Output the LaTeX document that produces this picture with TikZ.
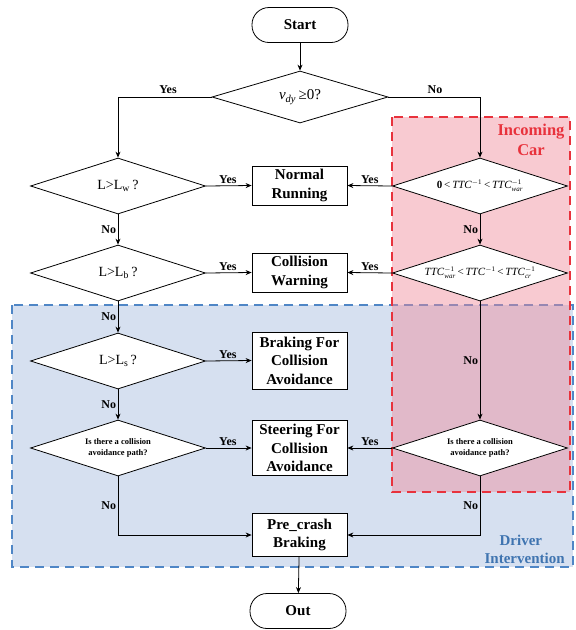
\documentclass[tikz,border=0pt]{standalone}
\usepackage{fontspec}
\setmainfont{Liberation Serif}
\usetikzlibrary{shapes.geometric,arrows.meta}
\definecolor{redline}{HTML}{E8323C}
\definecolor{redfill}{HTML}{F08A9A}
\definecolor{blueline}{HTML}{4F86C6}
\definecolor{bluefill}{HTML}{D6E0F0}
\definecolor{bluetext}{HTML}{3F74B0}
\newcommand{\ttcw}{\textit{TTC}\ensuremath{{}^{\mbox{\fontsize{7}{7}\selectfont $-$1}}_{\mbox{\fontsize{7}{7}\selectfont\itshape war}}}}
\newcommand{\ttcc}{\textit{TTC}\ensuremath{{}^{\mbox{\fontsize{7}{7}\selectfont $-$1}}_{\mbox{\fontsize{7}{7}\selectfont\itshape cr}}}}
\newcommand{\ttci}{\textit{TTC}\ensuremath{{}^{\mbox{\fontsize{7}{7}\selectfont $-$1}}}}
\begin{document}
\begin{tikzpicture}[x=1pt,y=-1pt,
  every node/.style={font=\fontsize{15}{18.5}\selectfont\bfseries},
  term/.style={draw,line width=0.8pt,rectangle,rounded corners=17pt,minimum width=96pt,minimum height=35pt,inner sep=0pt},
  dia/.style={draw,line width=0.8pt,diamond,aspect=3,inner sep=0pt,minimum width=175pt,minimum height=56pt,fill=white,font=\fontsize{14}{16}\selectfont},
  proc/.style={draw,line width=0.8pt,rectangle,minimum width=95pt,inner sep=1pt,align=center,fill=white},
  conn/.style={line width=0.8pt,-{Stealth[length=6pt,width=5pt]}},
  lab/.style={font=\fontsize{12}{14}\selectfont\bfseries,inner sep=1.5pt}
]
\useasboundingbox (0,0) rectangle (576,630);
% regions
\fill[bluefill] (12,305) rectangle (573,567);
\draw[blueline,line width=1.4pt,dash pattern=on 9pt off 6pt] (12,305) rectangle (573,567);
\fill[redfill,opacity=0.45] (392,117) rectangle (570,492);
\draw[redline,line width=1.4pt,dash pattern=on 9pt off 6pt] (392,117) rectangle (570,492);
\node[redline,align=center,font=\fontsize{16.5}{20}\selectfont\bfseries] (incar) at (531,140) {Incoming\\Car};
\node[bluetext,align=center,font=\fontsize{15}{18}\selectfont\bfseries,anchor=east] (drv) at (579,549) {\phantom{Inte}Driver\phantom{ntion}\\Intervention};
% nodes
\node[term] (start) at (300,25) {Start};
\node[dia,minimum height=52pt,minimum width=176pt,font=\fontsize{15}{17}\selectfont] (d0) at (300,97) {\textit{v}\textsubscript{\textit{dy}}\,≥0?};
\node[dia] (d1) at (118,186) {L>L\textsubscript{w}\,?};
\node[dia] (d2) at (118,273) {L>L\textsubscript{b}\,?};
\node[dia] (d3) at (118,361) {L>L\textsubscript{s}\,?};
\node[dia,font=\fontsize{8.5}{11}\selectfont\bfseries,align=center] (d4) at (118,448) {Is there a collision\\avoidance path?};
\node[dia,font=\fontsize{11}{13}\selectfont] (r1) at (480,186) {\textbf{0}\,<\,\ttci\,<\,\ttcw};
\node[dia,font=\fontsize{11}{13}\selectfont] (r2) at (480,273) {\ttcw\,<\,\ttci\,<\,\ttcc};
\node[dia,font=\fontsize{8.5}{11}\selectfont\bfseries,align=center] (r3) at (480,448) {Is there a collision\\avoidance path?};
\node[proc,minimum height=39pt] (b1) at (299.5,185.5) {Normal\\Running};
\node[proc,minimum height=39pt] (b2) at (299.5,272.5) {Collision\\Warning};
\node[proc,minimum height=57pt] (b3) at (299.5,360.5) {Braking For\\Collision\\Avoidance};
\node[proc,minimum height=55pt] (b4) at (299.5,448) {Steering For\\Collision\\Avoidance};
\node[proc,minimum height=43pt] (b5) at (299.5,535) {Pre\_crash\\Braking};
\node[term] (out) at (298,611) {Out};
\coordinate (cl) at (118,97);
\coordinate (cr) at (480,97);
\coordinate (bl) at (118,535);
\coordinate (br) at (480,535);
% connectors
\draw[conn] (start) -- (d0);
\draw[conn] (d0.west) -- (cl) -- (d1.north);
\draw[conn] (d0.east) -- (cr) -- (r1.north);
\node[lab] (ly0) at (168,90) {Yes};
\node[lab] (ln0) at (435,90) {No};
\draw[conn] (d1.east) -- node[lab,above,pos=0.48] (ly1) {Yes} (b1.west);
\draw[conn] (d2.east) -- node[lab,above,pos=0.48] (ly2) {Yes} (b2.west);
\draw[conn] (d3.east) -- node[lab,above,pos=0.48] (ly3) {Yes} (b3.west);
\draw[conn] (d4.east) -- node[lab,above,pos=0.48] (ly4) {Yes} (b4.west);
\draw[conn] (r1.west) -- node[lab,above,pos=0.5] (ry1) {Yes} (b1.east);
\draw[conn] (r2.west) -- node[lab,above,pos=0.5] (ry2) {Yes} (b2.east);
\draw[conn] (r3.west) -- node[lab,above,pos=0.5] (ry3) {Yes} (b4.east);
\draw[conn] (d1.south) -- node[lab,left] (ln1) {No} (d2.north);
\draw[conn] (d2.south) -- node[lab,left] (ln2) {No} (d3.north);
\draw[conn] (d3.south) -- node[lab,left] (ln3) {No} (d4.north);
\draw[conn] (r1.south) -- node[lab,left] (rn1) {No} (r2.north);
\draw[conn] (r2.south) -- node[lab,left] (rn2) {No} (r3.north);
\draw[conn] (d4.south) -- node[lab,left,pos=0.5] (ln4) {No} (bl) -- (b5.west);
\draw[conn] (r3.south) -- node[lab,left,pos=0.5] (rn3) {No} (br) -- (b5.east);
\draw[conn] (b5) -- (out);
\end{tikzpicture}
\end{document}
